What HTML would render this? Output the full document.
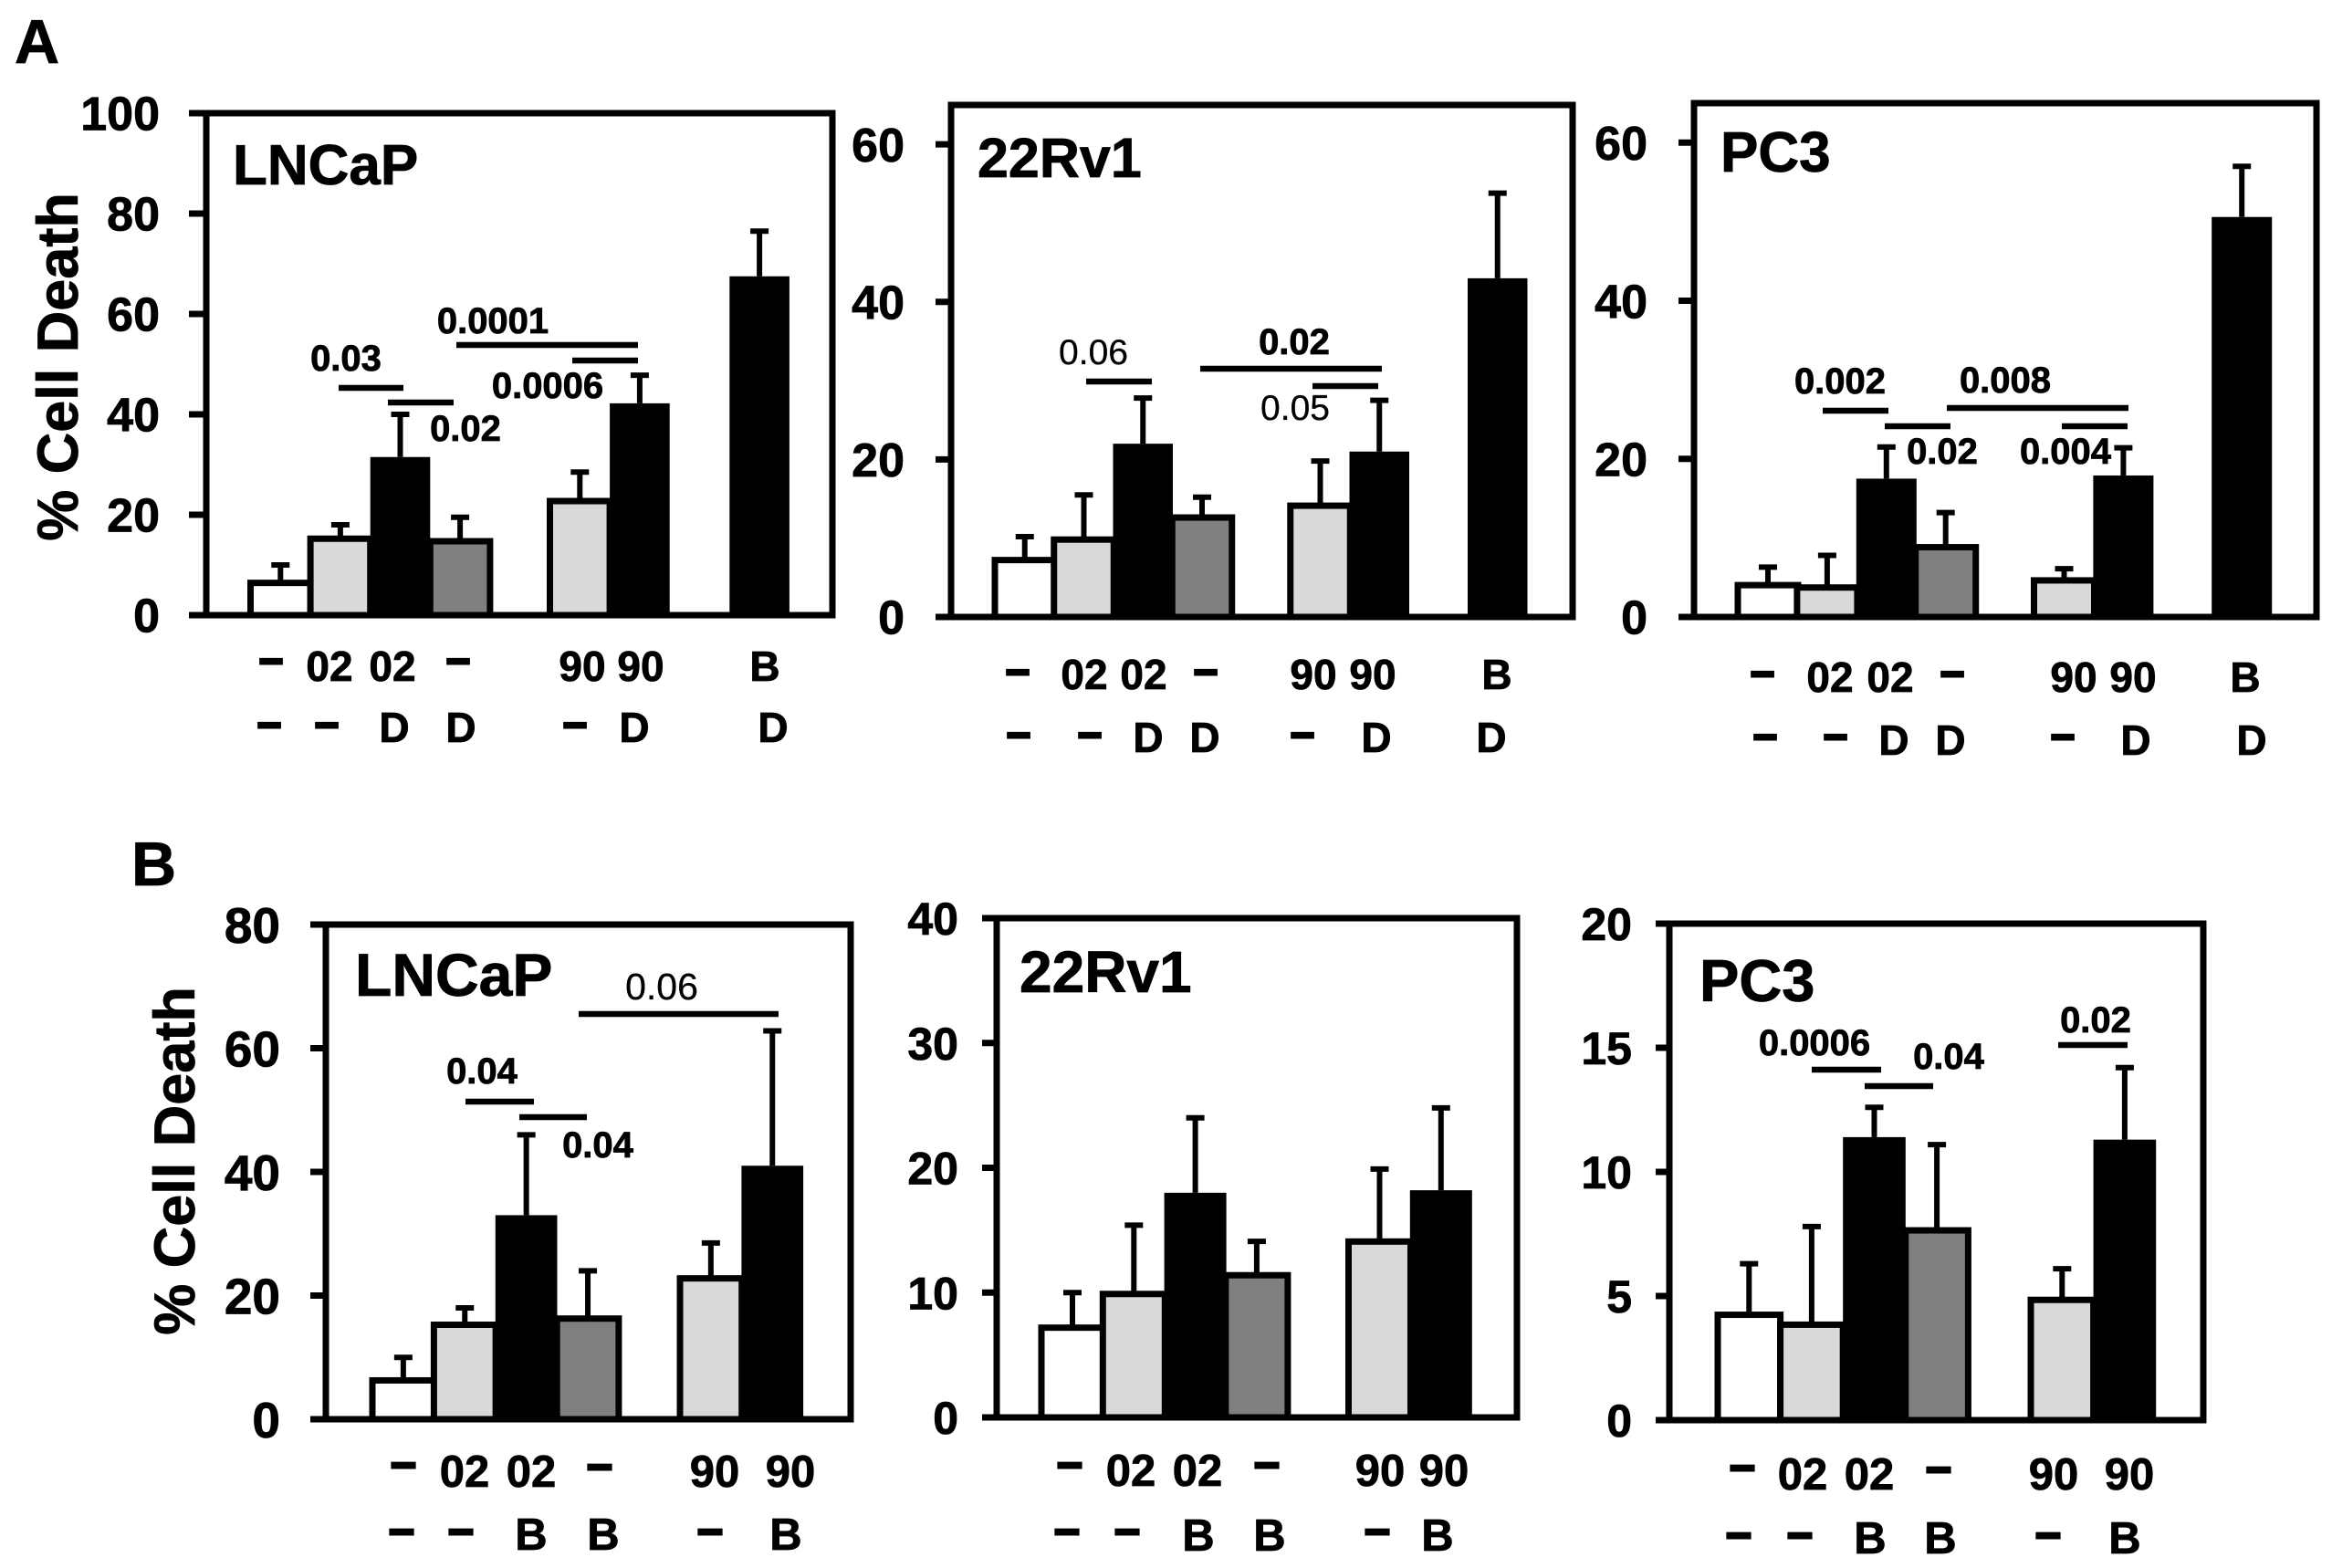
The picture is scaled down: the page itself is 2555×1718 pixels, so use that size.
<!DOCTYPE html>
<html lang="en">
<head>
<meta charset="utf-8">
<title>Percent cell death bar charts</title>
<style>
html,body{margin:0;padding:0;background:#fff;}
svg{display:block;}
text{font-family:"Liberation Sans",Arial,sans-serif;font-weight:700;fill:#000;stroke:#000;stroke-width:0.8px;}
.cat-a{font-size:46px;text-anchor:middle;}
.cat-b{font-size:49px;text-anchor:middle;}
.dash{stroke:#000;stroke-width:3px;}
.pv{font-size:40px;text-anchor:middle;}
.pv-r{font-size:39px;text-anchor:middle;font-weight:400;stroke-width:0.3px;}
.sig{stroke:#000;stroke-width:6.5;}
.title{font-size:62px;}
.ytitle{font-size:63px;text-anchor:middle;}
.letter{font-size:68px;}
</style>
</head>
<body>
<svg id="figure" width="2555" height="1718" viewBox="0 0 2555 1718" xmlns="http://www.w3.org/2000/svg">
<rect width="2555" height="1718" fill="#fff"/>
<text class="letter" x="16" y="69">A</text>
<text class="letter" x="144" y="970">B</text>
<text class="ytitle" transform="translate(85 402) rotate(-90)">% Cell Death</text>
<text class="ytitle" transform="translate(213 1272) rotate(-90)">% Cell Death</text>

<g id="a1"></g>
<g id="a2"></g>
<g id="a3"></g>
<g id="b1"></g>
<g id="b2"></g>
<g id="b3"></g>

<!-- chart titles -->
<text class="title" x="255" y="202" style="font-size:62px">LNCaP</text>
<text class="title" x="1071" y="194" style="font-size:61px">22Rv1</text>
<text class="title" x="1885" y="188">PC3</text>
<text class="title" x="389" y="1091" style="font-size:66px">LNCaP</text>
<text class="title" x="1117" y="1087" style="font-size:64px">22Rv1</text>
<text class="title" x="1862" y="1097" style="font-size:65px">PC3</text>

<!-- A LNCaP annotations -->
<g>
<text class="pv" x="379" y="406">0.03</text>
<line class="sig" x1="371" x2="442" y1="425" y2="425"/>
<line class="sig" x1="425" x2="497" y1="441" y2="441"/>
<text class="pv" x="510" y="483">0.02</text>
<text class="pv" x="540" y="365">0.0001</text>
<line class="sig" x1="500" x2="699" y1="378" y2="378"/>
<line class="sig" x1="627" x2="699" y1="395" y2="395"/>
<text class="pv" x="600" y="436">0.0006</text>
</g>
<!-- A 22Rv1 annotations -->
<g>
<text class="pv-r" x="1198" y="399">0.06</text>
<line class="sig" x1="1190" x2="1262" y1="418" y2="418"/>
<text class="pv" x="1418" y="388">0.02</text>
<line class="sig" x1="1315" x2="1514" y1="404" y2="404"/>
<line class="sig" x1="1438" x2="1510" y1="423" y2="423"/>
<text class="pv-r" x="1419" y="460">0.05</text>
</g>
<!-- A PC3 annotations -->
<g>
<text class="pv" x="2016" y="431">0.002</text>
<line class="sig" x1="1997" x2="2069" y1="450" y2="450"/>
<line class="sig" x1="2065" x2="2137" y1="467" y2="467"/>
<text class="pv" x="2128" y="508">0.02</text>
<text class="pv" x="2197" y="430">0.008</text>
<line class="sig" x1="2133" x2="2332" y1="447" y2="447"/>
<line class="sig" x1="2259" x2="2331" y1="467" y2="467"/>
<text class="pv" x="2263" y="508">0.004</text>
</g>
<!-- B LNCaP annotations -->
<g>
<text class="pv-r" x="725" y="1095" style="font-size:41px">0.06</text>
<line class="sig" x1="634" x2="853" y1="1111" y2="1111"/>
<text class="pv" x="528" y="1187">0.04</text>
<line class="sig" x1="510" x2="585" y1="1207" y2="1207"/>
<line class="sig" x1="569" x2="643" y1="1224" y2="1224"/>
<text class="pv" x="655" y="1268">0.04</text>
</g>
<!-- B PC3 annotations -->
<g>
<text class="pv" x="1988" y="1156">0.0006</text>
<line class="sig" x1="1985" x2="2061" y1="1172" y2="1172"/>
<line class="sig" x1="2043" x2="2118" y1="1190" y2="1190"/>
<text class="pv" x="2135" y="1171">0.04</text>
<text class="pv" x="2296" y="1131">0.02</text>
<line class="sig" x1="2255" x2="2331" y1="1145" y2="1145"/>
</g>

<!-- treatment labels A LNCaP -->
<g>
<text class="cat-a dash" x="297" y="737">–</text>
<text class="cat-a" x="361" y="746">02</text>
<text class="cat-a" x="430" y="746">02</text>
<text class="cat-a dash" x="502" y="737">–</text>
<text class="cat-a" x="638" y="746">90</text>
<text class="cat-a" x="702" y="746">90</text>
<text class="cat-a" x="838" y="746">B</text>
<text class="cat-a dash" x="295" y="807">–</text>
<text class="cat-a dash" x="358" y="807">–</text>
<text class="cat-a" x="432" y="813">D</text>
<text class="cat-a" x="505" y="813">D</text>
<text class="cat-a dash" x="630" y="807">–</text>
<text class="cat-a" x="695" y="813">D</text>
<text class="cat-a" x="847" y="813">D</text>
</g>
<!-- treatment labels A 22Rv1 -->
<g>
<text class="cat-a dash" x="1115" y="749">–</text>
<text class="cat-a" x="1188" y="755">02</text>
<text class="cat-a" x="1253" y="755">02</text>
<text class="cat-a dash" x="1321" y="749">–</text>
<text class="cat-a" x="1439" y="755">90</text>
<text class="cat-a" x="1504" y="755">90</text>
<text class="cat-a" x="1640" y="755">B</text>
<text class="cat-a dash" x="1116" y="818">–</text>
<text class="cat-a dash" x="1194" y="818">–</text>
<text class="cat-a" x="1258" y="824">D</text>
<text class="cat-a" x="1320" y="824">D</text>
<text class="cat-a dash" x="1427" y="818">–</text>
<text class="cat-a" x="1508" y="824">D</text>
<text class="cat-a" x="1634" y="824">D</text>
</g>
<!-- treatment labels A PC3 -->
<g>
<text class="cat-a dash" x="1931" y="751">–</text>
<text class="cat-a" x="2005" y="758">02</text>
<text class="cat-a" x="2071" y="758">02</text>
<text class="cat-a dash" x="2139" y="751">–</text>
<text class="cat-a" x="2272" y="758">90</text>
<text class="cat-a" x="2337" y="758">90</text>
<text class="cat-a" x="2460" y="758">B</text>
<text class="cat-a dash" x="1934" y="820">–</text>
<text class="cat-a dash" x="2011" y="820">–</text>
<text class="cat-a" x="2075" y="827">D</text>
<text class="cat-a" x="2137" y="827">D</text>
<text class="cat-a dash" x="2260" y="820">–</text>
<text class="cat-a" x="2340" y="827">D</text>
<text class="cat-a" x="2467" y="827">D</text>
</g>
<!-- treatment labels B LNCaP -->
<g>
<text class="cat-b dash" x="442" y="1619">–</text>
<text class="cat-b" x="509" y="1629">02</text>
<text class="cat-b" x="582" y="1629">02</text>
<text class="cat-b dash" x="657" y="1621">–</text>
<text class="cat-b" x="783" y="1629">90</text>
<text class="cat-b" x="866" y="1629">90</text>
<text class="cat-b dash" x="440" y="1692">–</text>
<text class="cat-b dash" x="505" y="1692">–</text>
<text class="cat-b" x="582" y="1698">B</text>
<text class="cat-b" x="661" y="1698">B</text>
<text class="cat-b dash" x="778" y="1692">–</text>
<text class="cat-b" x="861" y="1698">B</text>
</g>
<!-- treatment labels B 22Rv1 -->
<g>
<text class="cat-b dash" x="1172" y="1619">–</text>
<text class="cat-b" x="1239" y="1628">02</text>
<text class="cat-b" x="1312" y="1628">02</text>
<text class="cat-b dash" x="1388" y="1619">–</text>
<text class="cat-b" x="1512" y="1628">90</text>
<text class="cat-b" x="1582" y="1628">90</text>
<text class="cat-b dash" x="1169" y="1692">–</text>
<text class="cat-b dash" x="1235" y="1692">–</text>
<text class="cat-b" x="1313" y="1699">B</text>
<text class="cat-b" x="1391" y="1699">B</text>
<text class="cat-b dash" x="1509" y="1692">–</text>
<text class="cat-b" x="1575" y="1699">B</text>
</g>
<!-- treatment labels B PC3 -->
<g>
<text class="cat-b dash" x="1909" y="1622">–</text>
<text class="cat-b" x="1975" y="1632">02</text>
<text class="cat-b" x="2048" y="1632">02</text>
<text class="cat-b dash" x="2124" y="1624">–</text>
<text class="cat-b" x="2250" y="1632">90</text>
<text class="cat-b" x="2333" y="1632">90</text>
<text class="cat-b dash" x="1905" y="1696">–</text>
<text class="cat-b dash" x="1972" y="1696">–</text>
<text class="cat-b" x="2049" y="1702">B</text>
<text class="cat-b" x="2126" y="1702">B</text>
<text class="cat-b dash" x="2244" y="1696">–</text>
<text class="cat-b" x="2328" y="1702">B</text>
</g>
</svg>

<script>
// Categories (blank entries are the gaps between bar groups)
const categoriesD = ['none', '02', '02+drug', 'drug', '', '90', '90+drug', '', 'B+drug'];
const categoriesB = ['none', '02', '02+drug', 'drug', '', '90', '90+drug'];

// Panel A, LNCaP
const a1Values = [6.7, 15.5, 31.5, 15, null, 23, 42.2, null, 67.5];
const a1Errors = [3.3, 2.5, 8.5, 4.5, null, 5.5, 5.6, null, 9];
const a1Ticks = [0, 20, 40, 60, 80, 100];

// Panel A, 22Rv1
const a2Values = [7.4, 10, 22, 12.8, null, 14.3, 21, null, 43];
const a2Errors = [2.8, 5.5, 5.8, 2.4, null, 5.5, 6.5, null, 10.8];
const a2Ticks = [0, 20, 40, 60];

// Panel A, PC3
const a3Values = [4.2, 3.9, 17.5, 9, null, 4.8, 17.9, null, 50.6];
const a3Errors = [2.1, 3.9, 4, 4.2, null, 1.3, 3.5, null, 6.4];
const a3Ticks = [0, 20, 40, 60];

// Panel B, LNCaP
const b1Values = [6.5, 15.5, 33, 16.5, null, 23, 41];
const b1Errors = [3.5, 2.5, 13, 7.5, null, 5.5, 21.8];
const b1Ticks = [0, 20, 40, 60, 80];

// Panel B, 22Rv1
const b2Values = [7.3, 10, 18, 11.5, null, 14.2, 18.2];
const b2Errors = [2.7, 5.4, 6, 2.6, null, 5.7, 6.6];
const b2Ticks = [0, 10, 20, 30, 40];

// Panel B, PC3
const b3Values = [4.3, 3.9, 11.4, 7.7, null, 4.9, 11.3];
const b3Errors = [2, 3.9, 1.2, 3.4, null, 1.2, 2.9];
const b3Ticks = [0, 5, 10, 15, 20];

const NS = 'http://www.w3.org/2000/svg';

function fillFor(category) {
  if (category === 'none') return '#ffffff';
  if (category.indexOf('+') > -1) return '#000000';
  if (category === 'drug') return '#808080';
  return '#d9d9d9';
}

function make(tag, attrs, parent) {
  const el = document.createElementNS(NS, tag);
  for (const k in attrs) el.setAttribute(k, attrs[k]);
  parent.appendChild(el);
  return el;
}

function drawChart(id, box, categories, values, errors, ticks) {
  const g = document.getElementById(id);
  const yScale = function (v) { return box.bottom - v * (box.bottom - box.top) / box.max; };
  const xScale = function (i) { return box.x0 + i * box.step; };

  values.forEach(function (v, i) {
    if (v === null) return;
    const cx = xScale(i) + box.band / 2;
    const topY = yScale(v + errors[i]);
    const stem = make('line', { x1: cx, x2: cx, y1: yScale(v), y2: topY, stroke: '#000', 'stroke-width': 6 }, g);
    
    
    const cap = make('line', { x1: cx - 10, x2: cx + 10, y1: topY, y2: topY, stroke: '#000', 'stroke-width': 6 }, g);
    
    
  });

  values.forEach(function (v, i) {
    if (v === null) return;
    const fill = fillFor(categories[i]);
    const solid = fill === '#000000';
    const inset = solid ? 0 : 1.5;
    const bar = make('rect', {
      x: xScale(i), y: yScale(v) + inset, width: box.band, height: box.bottom - yScale(v) - inset,
      fill: fill, stroke: solid ? 'none' : '#000', 'stroke-width': 7
    }, g);
    
    
  });

  const frame = make('rect', {
    x: box.left, y: box.top, width: box.right - box.left, height: box.bottom - box.top,
    fill: 'none', stroke: '#000', 'stroke-width': 7
  }, g);
  
  

  ticks.forEach(function (t) {
    const y = yScale(t);
    const mark = make('line', { x1: box.tickLeft, x2: box.left, y1: y, y2: y, stroke: '#000', 'stroke-width': 7 }, g);
    
    
    const label = make('text', { x: box.labelRight, y: y + box.font * 0.36, 'text-anchor': 'end', 'font-size': box.font }, g);
    
    
    label.textContent = String(t);
  });
}

drawChart('a1', { left: 226, right: 912, top: 124, bottom: 674, max: 100, x0: 274.5, step: 65.6, band: 65.6, tickLeft: 207, labelRight: 175, font: 52 }, categoriesD, a1Values, a1Errors, a1Ticks);
drawChart('a2', { left: 1042, right: 1723, top: 115, bottom: 676, max: 65, x0: 1090, step: 64.75, band: 65.5, tickLeft: 1025, labelRight: 991, font: 52 }, categoriesD, a2Values, a2Errors, a2Ticks);
drawChart('a3', { left: 1856, right: 2538, top: 113, bottom: 676, max: 65, x0: 1904, step: 64.9, band: 66, tickLeft: 1839, labelRight: 1805, font: 52 }, categoriesD, a3Values, a3Errors, a3Ticks);
drawChart('b1', { left: 357, right: 932, top: 1013, bottom: 1555, max: 80, x0: 408, step: 67.4, band: 67.7, tickLeft: 340, labelRight: 307, font: 55 }, categoriesB, b1Values, b1Errors, b1Ticks);
drawChart('b2', { left: 1092, right: 1662, top: 1006, bottom: 1553, max: 40, x0: 1141, step: 67.3, band: 68, tickLeft: 1076, labelRight: 1050, font: 50 }, categoriesB, b2Values, b2Errors, b2Ticks);
drawChart('b3', { left: 1829, right: 2414, top: 1012, bottom: 1556, max: 20, x0: 1882, step: 68.6, band: 68.6, tickLeft: 1814, labelRight: 1788, font: 50 }, categoriesB, b3Values, b3Errors, b3Ticks);
</script>
</body>
</html>
